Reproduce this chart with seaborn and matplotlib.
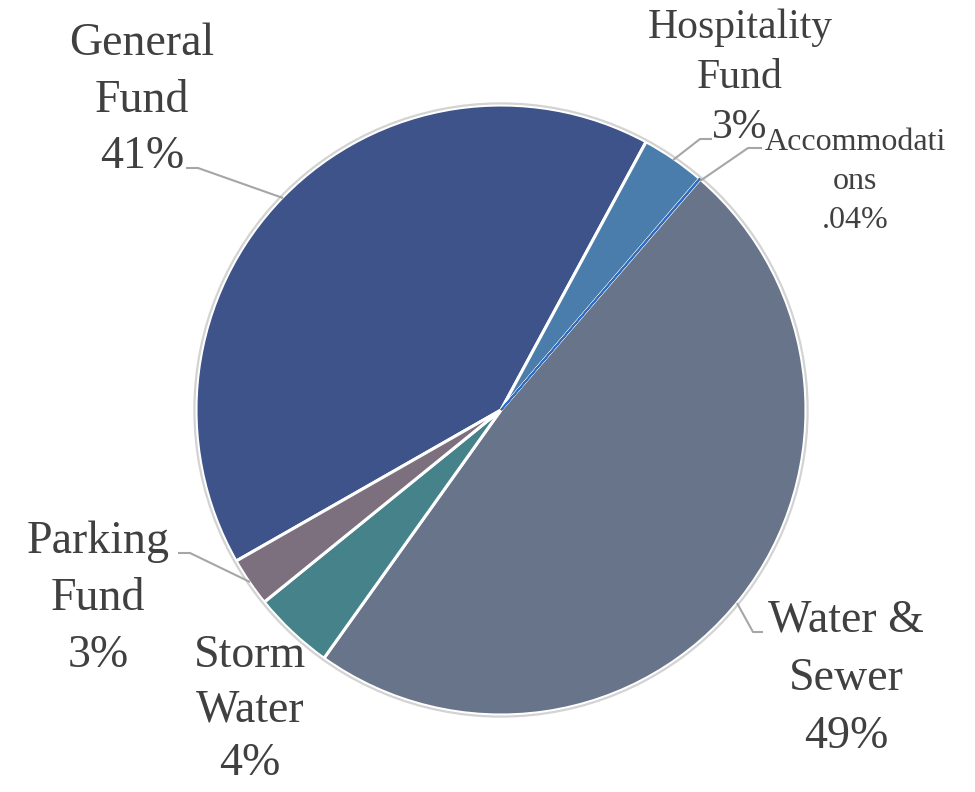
import numpy as np
import matplotlib
matplotlib.use("Agg")
import matplotlib.pyplot as plt
from matplotlib.patches import Circle
import seaborn as sns

# Fund shares (percent of total), in drawing order (clockwise)
funds = ["General Fund", "Hospitality Fund", "Accommodations",
         "Water & Sewer", "Storm Water", "Parking Fund"]
shares = [41.2, 3.4, 0.04, 48.6, 4.3, 2.6]
colors = ["#3D5389", "#4A7DAB", "#2E6CC0", "#687489", "#46828A", "#7C707E"]

sns.set_theme(style="white")
plt.rcParams["font.family"] = ["Liberation Serif", "DejaVu Serif"]

W, H = 975, 792
fig = plt.figure(figsize=(W / 100, H / 100), dpi=100)
ax = fig.add_axes([0, 0, 1, 1])

cx, cy, R = 501, H - 410, 305


def py(y):
    """Convert a top-down pixel row to axes y."""
    return H - y


wedges, _ = ax.pie(shares, colors=colors, startangle=90 - 240.3,
                   counterclock=False, center=(cx, cy), radius=R,
                   wedgeprops=dict(edgecolor="white", linewidth=2.2))
# keep the very thin slice visible on top of the white separators
wedges[2].set_zorder(3)
wedges[2].set_edgecolor(colors[2])
wedges[2].set_linewidth(1.3)

ax.add_patch(Circle((cx, cy), R + 1.6, fill=False, edgecolor="#D3D3D3",
                    linewidth=1.6, zorder=4))

ax.set_xlim(0, W)
ax.set_ylim(0, H)
ax.set_aspect("equal")
ax.axis("off")


def fmt(v):
    if v < 1:
        return f"{v:.2f}%".lstrip("0")
    return f"{v:.0f}%"


text_color = "#404040"


def label(lines, x, first_baseline, step, size):
    for i, line in enumerate(lines):
        ax.text(x, py(first_baseline + i * step), line, ha="center",
                va="baseline", fontsize=size, color=text_color, zorder=5)


pct = {n: fmt(v) for n, v in zip(funds, shares)}

label(["General", "Fund", pct["General Fund"]], 142, 55, 56.5, 33)
label(["Hospitality", "Fund", pct["Hospitality Fund"]], 740, 38, 50, 30)
label(["Accommodati", "ons", pct["Accommodations"]], 855, 150, 39, 23)
label(["Water &", "Sewer", pct["Water & Sewer"]], 846, 632, 58, 33)
label(["Storm", "Water", pct["Storm Water"]], 250, 667, 54, 33)
label(["Parking", "Fund", pct["Parking Fund"]], 98, 553, 57, 33)

# leader lines from labels to their slices
leaders = [
    [(186, 168), (198, 168), (283, 198)],
    [(712, 139), (700, 139), (673, 160)],
    [(762, 148), (748, 148), (700, 181)],
    [(178, 553), (190, 553), (250, 582)],
    [(763, 632), (753, 632), (737, 603)],
]
for pts in leaders:
    xs = [p[0] for p in pts]
    ys = [py(p[1]) for p in pts]
    ax.plot(xs, ys, color="#A6A6A6", linewidth=1.5, zorder=5,
            solid_capstyle="butt")

fig.savefig("out.png", dpi=100, facecolor="white")
